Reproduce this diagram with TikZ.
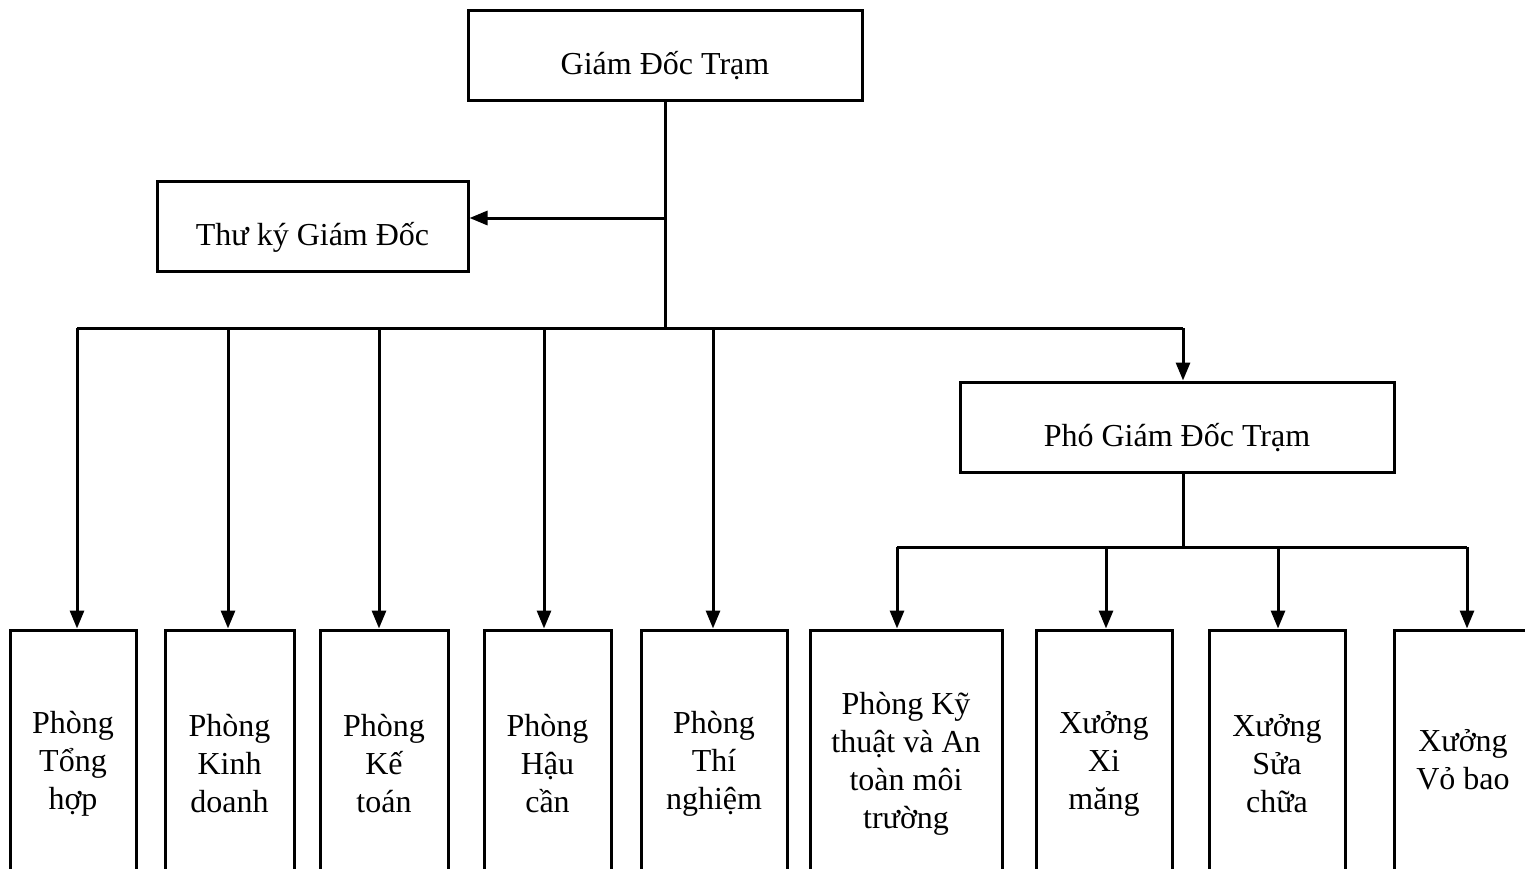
\documentclass[tikz,border=0pt]{standalone}
\usepackage{fontspec}
\setmainfont{Liberation Serif}
\usetikzlibrary{arrows.meta}
\begin{document}
\begin{tikzpicture}[x=0.5pt,y=-0.5pt,
  box/.style={draw=black,line width=1.5pt,inner sep=0pt,align=center,
    font=\fontsize{16}{19}\selectfont},
  head/.style={box,minimum height=45pt,text height=19pt,text depth=0pt},
  unit/.style={box,minimum width=#1*0.5pt,minimum height=134pt},
  link/.style={line width=1.5pt},
  arr/.style={link,-{Triangle[length=9pt,width=7pt]}}]
\useasboundingbox (0,0) rectangle (1525,868);
\clip (0,0) rectangle (1525,868);

% upper level
\node[head,minimum width=197pt] (gd) at (665,55) {Giám Đốc Trạm};
\node[head,minimum width=155.5pt] (tk) at (312.5,226) {Thư ký Giám Đốc};
\node[head,minimum width=217pt] (pgd) at (1177,427) {Phó Giám Đốc Trạm};

% departments under the director
\node[unit=126] (b1) at (73,764) {Phòng\\Tổng\\hợp};
\node[unit=129] (b2) at (229.5,764) {Phòng\\Kinh\\doanh};
\node[unit=128] (b3) at (384,764) {Phòng\\Kế\\toán};
\node[unit=127] (b4) at (547.5,764) {Phòng\\Hậu\\cần};
\node[unit=146] (b5) at (714,764) {Phòng\\Thí\\nghiệm};

% units under the deputy director
\node[unit=192] (b6) at (906,764) {Phòng Kỹ\\thuật và An\\toàn môi\\trường};
\node[unit=136] (b7) at (1104,764) {Xưởng\\Xi\\măng};
\node[unit=136] (b8) at (1277,764) {Xưởng\\Sửa\\chữa};
\node[unit=138,minimum height=130pt] (b9) at (1463,760) {Xưởng\\Vỏ bao};

% junction points
\coordinate (tkj) at (665,218);
\coordinate (d1) at (77,328);
\coordinate (d2) at (228,328);
\coordinate (d3) at (379,328);
\coordinate (d4) at (544,328);
\coordinate (d5) at (713,328);
\coordinate (dp) at (1183,328);
\coordinate (pj) at (1183,547);
\coordinate (e6) at (897,547);
\coordinate (e7) at (1106,547);
\coordinate (e8) at (1278,547);
\coordinate (e9) at (1467,547);

% director branch
\draw[link] (gd.south) -- (gd.south |- d1);
\draw[arr] (tkj) -- (tkj -| tk.east);
\draw[link] (d1) -- (dp);
\foreach \d/\b in {d1/b1,d2/b2,d3/b3,d4/b4,d5/b5}
  \draw[arr] (\d) -- (\d |- \b.north);
\draw[arr] (dp) -- (dp |- pgd.north);

% deputy branch
\draw[link] (pj |- pgd.south) -- (pj);
\draw[link] (e6) -- (e9);
\foreach \e/\b in {e6/b6,e7/b7,e8/b8,e9/b9}
  \draw[arr] (\e) -- (\e |- \b.north);
\end{tikzpicture}
\end{document}
